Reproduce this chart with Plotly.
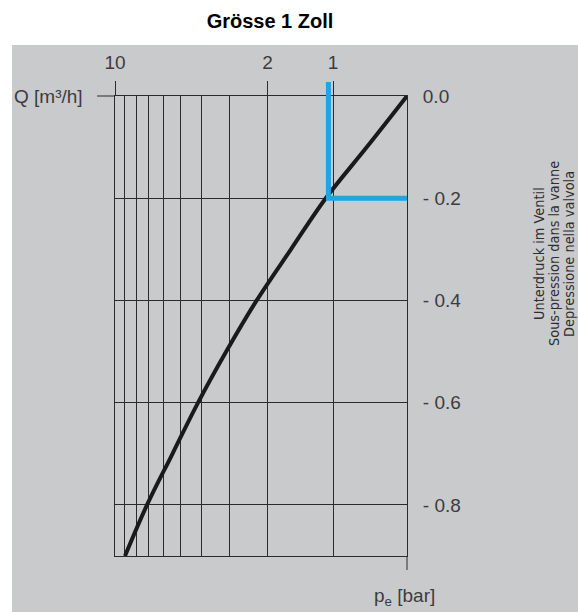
import plotly.graph_objects as go
import math

# ---- data ----
pe_bar = [0.458, 0.70, 1.08, 1.56, 2.24, 3.09, 4.16, 5.45, 7.13, 9.0]
q_m3h = [0.0, -0.1, -0.2, -0.3, -0.4, -0.5, -0.6, -0.7, -0.8, -0.9]

op_pe = 1.05     # operating point (blue)
op_q = -0.2

x_major_ticks = [10, 2, 1]
x_major_text = ["10", "2", "1"]
x_minor_grid = [9, 8, 7, 6, 5, 4, 3]
x_range = [10, 0.458]

y_ticks = [0.0, -0.2, -0.4, -0.6, -0.8]
y_ticktext = ["0.0", "- 0.2", "- 0.4", "- 0.6", "- 0.8"]
y_range = [-0.9, 0.0]

title_text = "Grösse 1 Zoll"
q_label = "Q [m³/h]"
pe_label = "p<sub>e</sub> [bar]"
side_lines = ["Unterdruck im Ventil", "Sous-pression dans la vanne", "Depressione nella valvola"]

# ---- styling ----
W, H = 578, 612
ML, MR, MT, MB = 115, 171, 96, 56
PW, PH = W - ML - MR, H - MT - MB
FONT = "Liberation Sans, Arial, sans-serif"
COND = "DejaVu Sans Condensed, Liberation Sans, sans-serif"
GRID = "#2b2b2b"
TXT = "#3c3c3c"
BLUE = "#1ca6e3"

def px_x(px):
    return (px - ML) / PW

def px_y(py):
    return (H - MB - py) / PH

fig = go.Figure()

fig.add_trace(go.Scatter(
    x=pe_bar, y=q_m3h, mode="lines",
    line=dict(color="#1a1a1a", width=4, shape="spline", smoothing=1.0), hoverinfo="skip"))

fig.add_trace(go.Scatter(
    x=[op_pe, op_pe, x_range[1]], y=[y_range[1], op_q, op_q], mode="lines",
    line=dict(color=BLUE, width=5), hoverinfo="skip"))

shapes = [
    # grey panel behind the chart
    dict(type="rect", xref="paper", yref="paper",
         x0=px_x(12), x1=px_x(W), y0=px_y(45), y1=px_y(H),
         fillcolor="#c9cacc", line=dict(width=0), layer="below"),
    # left tick at Q = 0
    dict(type="line", xref="paper", yref="paper",
         x0=px_x(97), x1=0, y0=1, y1=1, line=dict(color=GRID, width=1)),
    # bottom-right tick
    dict(type="line", xref="paper", yref="paper",
         x0=1, x1=1, y0=0, y1=px_y(H - MB + 14), line=dict(color=GRID, width=1)),
    # blue stub above the plot
    dict(type="line", xref="x", yref="paper",
         x0=op_pe, x1=op_pe, y0=1, y1=px_y(MT - 14), line=dict(color=BLUE, width=5)),
]

annotations = [
    dict(text=q_label, xref="paper", yref="paper", x=0, y=1, xanchor="right",
         yanchor="middle", xshift=-30, showarrow=False,
         font=dict(family=FONT, size=19, color=TXT)),
    dict(text=pe_label, xref="paper", yref="paper", x=px_x(404), y=px_y(597),
         xanchor="center", yanchor="middle", showarrow=False,
         font=dict(family=FONT, size=19, color=TXT)),
]
for t, cx in zip(side_lines, [539, 554, 569]):
    annotations.append(dict(text=t, xref="paper", yref="paper", x=px_x(cx), y=px_y(254),
                            xanchor="center", yanchor="middle", textangle=-90,
                            showarrow=False, font=dict(family=COND, size=14.4, color="#2e2e2e")))

fig.update_layout(
    width=W, height=H,
    margin=dict(l=ML, r=MR, t=MT, b=MB, autoexpand=False),
    paper_bgcolor="white", plot_bgcolor="#ececee",
    showlegend=False,
    title=dict(text="<b>" + title_text + "</b>", x=270 / W, y=1 - 21 / H,
               xanchor="center", yanchor="middle",
               font=dict(family=FONT, size=20, color="black")),
    xaxis=dict(type="log", side="top",
               range=[math.log10(x_range[0]), math.log10(x_range[1])],
               tickmode="array", tickvals=x_major_ticks, ticktext=x_major_text,
               ticks="outside", ticklen=14, tickwidth=1, tickcolor=GRID,
               ticklabelstandoff=4,
               showgrid=True, gridcolor=GRID, gridwidth=1,
               minor=dict(tickmode="array", tickvals=x_minor_grid, showgrid=True,
                          gridcolor=GRID, gridwidth=1, ticks=""),
               showline=True, linecolor=GRID, linewidth=1, mirror=True,
               zeroline=False, fixedrange=True,
               tickfont=dict(family=FONT, size=19, color=TXT)),
    yaxis=dict(side="right", range=y_range,
               tickmode="array", tickvals=y_ticks, ticktext=y_ticktext,
               ticks="", ticklabelstandoff=11,
               showgrid=True, gridcolor=GRID, gridwidth=1,
               showline=True, linecolor=GRID, linewidth=1, mirror=True,
               zeroline=False, fixedrange=True,
               tickfont=dict(family=FONT, size=19, color=TXT)),
    shapes=shapes,
    annotations=annotations,
)

fig.write_html("out.html", config={"displayModeBar": False},
               post_script="document.body.style.margin='0';document.body.style.overflow='hidden';")
